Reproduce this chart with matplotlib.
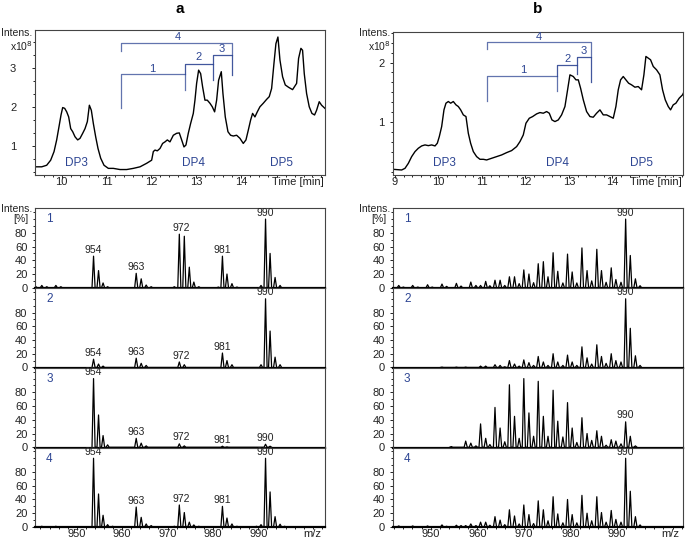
import matplotlib

matplotlib.use("Agg")
import matplotlib.pyplot as plt
from matplotlib.ticker import MultipleLocator, FixedLocator

plt.rcParams["font.family"] = ["Liberation Sans", "DejaVu Sans"]

BLUE = "#2d4593"
FRAME = "#444444"
W, H = 685, 543

# ---- chromatogram a (base peak, x10^8) ----
TIME_A = [9.405, 9.554, 9.665, 9.754, 9.829, 9.888, 9.940, 9.985, 10.022, 10.067, 10.112, 10.156,
          10.201, 10.246, 10.298, 10.357, 10.409, 10.469, 10.521, 10.573, 10.618, 10.662, 10.707,
          10.759, 10.811, 10.871, 10.945, 11.042, 11.153, 11.302, 11.451, 11.600, 11.749, 11.897,
          12.009, 12.046, 12.083, 12.135, 12.195, 12.254, 12.307, 12.359, 12.418, 12.493, 12.567,
          12.626, 12.679, 12.731, 12.775, 12.827, 12.879, 12.939, 12.976, 13.013, 13.058, 13.103,
          13.147, 13.199, 13.251, 13.311, 13.363, 13.415, 13.460, 13.504, 13.564, 13.601, 13.653,
          13.713, 13.772, 13.832, 13.906, 13.981, 14.055, 14.115, 14.167, 14.219, 14.263, 14.315,
          14.368, 14.427, 14.501, 14.576, 14.635, 14.688, 14.740, 14.784, 14.829, 14.874, 14.933,
          14.993, 15.067, 15.156, 15.246, 15.290, 15.342, 15.379, 15.417, 15.469, 15.528, 15.588,
          15.647, 15.692, 15.751, 15.804, 15.878]
INT_A = [0.46, 0.46, 0.50, 0.63, 0.85, 1.15, 1.49, 1.79, 1.98, 1.96, 1.87, 1.74,
         1.44, 1.36, 1.23, 1.15, 1.19, 1.32, 1.44, 1.62, 2.04, 1.91, 1.57,
         1.23, 0.93, 0.68, 0.50, 0.42, 0.42, 0.39, 0.39, 0.42, 0.46, 0.55,
         0.63, 0.85, 0.89, 0.87, 0.93, 1.06, 1.10, 1.15, 1.10, 1.27, 1.32,
         1.33, 1.15, 0.97, 1.02, 1.32, 1.57, 1.83, 2.17, 2.60, 2.94, 2.85,
         2.51, 2.17, 2.17, 2.09, 2.00, 1.87, 2.17, 2.68, 2.90, 2.34, 1.74,
         1.36, 1.27, 1.25, 1.27, 1.19, 1.06, 1.15, 1.40, 1.66, 1.83, 1.74,
         1.87, 2.00, 2.09, 2.19, 2.26, 2.47, 3.11, 3.62, 3.79, 3.20, 2.77,
         2.56, 2.50, 2.44, 2.60, 3.24, 3.50, 3.45, 2.85, 2.34, 2.00, 1.83,
         1.79, 1.91, 2.13, 2.04, 1.96]

# ---- chromatogram b ----
TIME_B = [8.962, 9.153, 9.230, 9.307, 9.383, 9.460, 9.536, 9.613, 9.690, 9.766, 9.843, 9.920,
          9.973, 10.019, 10.073, 10.126, 10.172, 10.226, 10.280, 10.341, 10.402, 10.456, 10.510,
          10.571, 10.632, 10.686, 10.739, 10.801, 10.877, 10.954, 11.031, 11.107, 11.222, 11.337,
          11.452, 11.567, 11.682, 11.797, 11.874, 11.950, 12.011, 12.088, 12.165, 12.257, 12.333,
          12.410, 12.487, 12.548, 12.609, 12.678, 12.755, 12.831, 12.908, 12.969, 13.023, 13.100,
          13.161, 13.215, 13.268, 13.330, 13.406, 13.483, 13.559, 13.636, 13.713, 13.789, 13.866,
          13.943, 14.019, 14.080, 14.134, 14.188, 14.249, 14.310, 14.372, 14.441, 14.517, 14.594,
          14.670, 14.724, 14.770, 14.824, 14.877, 14.939, 15.015, 15.092, 15.153, 15.215, 15.284,
          15.337, 15.398, 15.460, 15.536, 15.613, 15.667]
INT_B = [0.211, 0.200, 0.228, 0.312, 0.424, 0.508, 0.564, 0.603, 0.620, 0.608, 0.620, 0.603,
         0.648, 0.760, 0.927, 1.207, 1.319, 1.347, 1.319, 1.347, 1.291, 1.263, 1.207,
         1.123, 1.095, 0.815, 0.648, 0.508, 0.424, 0.379, 0.379, 0.368, 0.396, 0.424,
         0.452, 0.491, 0.525, 0.592, 0.676, 0.787, 0.983, 1.067, 1.095, 1.140, 1.162,
         1.151, 1.179, 1.151, 1.039, 1.011, 1.039, 1.123, 1.263, 1.543, 1.794, 1.766,
         1.710, 1.710, 1.570, 1.375, 1.179, 1.095, 1.084, 1.151, 1.207, 1.123, 1.123,
         1.095, 1.067, 1.263, 1.543, 1.710, 1.766, 1.710, 1.654, 1.626, 1.587, 1.598,
         1.543, 1.794, 2.102, 2.074, 2.046, 1.934, 1.878, 1.794, 1.543, 1.375, 1.263,
         1.207, 1.291, 1.319, 1.403, 1.459, 1.543]

TICKS_A = [10, 11, 12, 13, 14]
TICKS_B = [9, 10, 11, 12, 13, 14]
MZ_TICKS = [950, 960, 970, 980, 990]

# time windows summed for spectra 1-4
BRACKETS_A = {
    "1": ([11.32, 11.32, 12.76, 12.76], [1.96, 2.84, 2.84, 2.43]),
    "2": ([12.76, 12.76, 13.37, 13.37], [2.84, 3.11, 3.11, 2.68]),
    "3": ([13.37, 13.37, 13.81, 13.81], [3.11, 3.34, 3.34, 2.81]),
    "4": ([11.32, 11.32, 13.81, 13.81], [3.44, 3.64, 3.64, 3.34]),
}
BRACKET_LABELS_A = {"1": (12.03, 2.98), "2": (13.05, 3.27), "3": (13.58, 3.47), "4": (12.59, 3.78)}
BRACKETS_B = {
    "1": ([11.11, 11.11, 12.73, 12.73], [1.35, 1.78, 1.78, 1.53]),
    "2": ([12.73, 12.73, 13.18, 13.18], [1.78, 1.96, 1.96, 1.81]),
    "3": ([13.18, 13.18, 13.51, 13.51], [1.96, 2.10, 2.10, 1.68]),
    "4": ([11.11, 11.11, 13.51, 13.51], [2.22, 2.34, 2.34, 2.10]),
}
BRACKET_LABELS_B = {"1": (11.94, 1.87), "2": (12.96, 2.06), "3": (13.34, 2.20), "4": (12.31, 2.43)}
DP_NAMES = ["DP3", "DP4", "DP5"]
DP_POS_A = [(10.33, 0.55), (12.94, 0.55), (14.91, 0.55)]
DP_POS_B = [(10.13, 0.31), (12.73, 0.31), (14.67, 0.31)]

# ---- mass spectra, left column (a) ----
LEFT_MZ = [941.0, 942.3, 943.4, 945.4, 946.5, 953.7, 954.8, 955.8, 956.8, 957.9,
           963.1, 964.2, 965.3, 966.4, 971.5, 972.6, 973.7, 974.8, 975.8, 976.9,
           981.2, 982.1, 983.1, 984.2, 985.3, 989.6, 990.6, 991.6, 992.6, 993.7, 994.8, 995.8]
LEFT_1 = [1.5, 3.4, 1.5, 3.4, 1.5, 46, 25, 7, 1.5, 0,
          21, 13, 4, 1.5, 1.5, 78, 75, 30, 8.3, 1.5,
          1, 46, 20, 6, 1, 0, 3.4, 100, 50, 15, 3.4, 0]
LEFT_2 = [0, 0, 0, 0, 0, 12, 5, 2, 0, 0,
          13.5, 6, 3, 0, 0, 8, 4, 0, 0, 0,
          0, 21, 10, 4, 0, 0, 4, 100, 53, 15, 4, 0]
LEFT_3 = [0, 0, 0, 0, 0, 100, 47, 17, 3.5, 0,
          13, 6, 2, 0, 0, 5, 2, 0, 0, 0,
          0, 1.5, 0.5, 0, 0, 0, 0, 4.4, 1.5, 0, 0, 0]
LEFT_4 = [0, 1, 0, 1, 0, 100, 48, 17, 3.4, 1,
          29, 14, 4.4, 2, 1, 32, 21, 7, 3, 1,
          0, 30, 13, 4.4, 1, 1, 3.4, 100, 51, 15, 4, 1]
LEFT_LABELS = ["954", "963", "972", "981", "990"]
LEFT_LABEL_MZ = [953.7, 963.1, 973.1, 982.1, 991.6]

# ---- mass spectra, right column (b) ----
RIGHT_MZ = [943.1, 944.1, 945.1, 946.1, 947.2, 948.2, 949.3, 950.3, 951.4, 952.4,
            953.4, 954.4, 955.5, 956.5, 957.5, 958.6, 959.7, 960.7, 961.8, 962.7,
            963.8, 964.9, 965.9, 966.9, 968.0, 969.0, 970.0, 971.1, 972.1, 973.1,
            974.2, 975.2, 976.3, 977.3, 978.4, 979.4, 980.4, 981.4, 982.5, 983.6,
            984.6, 985.7, 986.7, 987.7, 988.8, 989.8, 990.9, 991.9, 992.9, 994.0, 995.0]
RIGHT_1 = [3.4, 1, 0, 3.4, 1, 0, 4.4, 1, 0, 5.4,
           2, 0, 6.4, 2.5, 0, 8.3, 3.4, 3.4, 9.3, 3,
           11, 11, 3.4, 16, 16, 6, 26, 20, 7.4, 35,
           38, 16, 51, 24, 7, 49, 23, 7, 58, 25,
           10, 56, 25, 8, 29, 12, 8, 100, 47, 13, 3]
RIGHT_2 = [0, 0, 0, 0, 0, 0, 0, 0, 0, 0.5,
           0, 0, 0.5, 0, 0.5, 0, 0, 2, 2, 0,
           4, 3, 1, 10, 5, 2, 11, 7, 3, 16,
           8, 3, 20, 8, 3, 18, 8, 3, 30, 14,
           5, 33, 16, 6, 20, 10, 8, 100, 57, 17, 3]
RIGHT_3 = [0, 0, 0, 0, 0, 0, 0, 0, 0, 0,
           0, 1, 0, 0, 9, 6, 2, 34, 13, 4,
           58, 28, 8, 91, 45, 13, 100, 50, 16, 96,
           45, 16, 83, 38, 15, 65, 28, 7, 43, 20,
           10, 24, 16, 3, 11, 9, 5, 37, 16, 2, 0]
RIGHT_4 = [1.5, 0, 0, 1.5, 0, 0, 1.5, 0, 0, 3,
           1, 0, 2.5, 2, 2, 4.4, 2, 7, 7, 2.5,
           15, 10, 3.4, 25, 16, 4.4, 32, 18, 5, 38,
           25, 9, 44, 19, 6, 40, 18, 6, 46, 20,
           9, 44, 21, 7, 24, 11, 7, 100, 52, 15, 3]
RIGHT_LABELS = ["990"]
RIGHT_LABEL_MZ = [991.9]


def px_rect(x0, y0, x1, y1):
    return [x0 / W, 1 - y1 / H, (x1 - x0) / W, (y1 - y0) / H]


def fig_text(fig, x, y, s, **kw):
    fig.text(x / W, 1 - y / H, s, **kw)


def stick_profile(mz, heights, hw=0.34):
    xs, ys = [], []
    for m, h in zip(mz, heights):
        if h <= 0:
            continue
        xs += [m - hw, m, m + hw]
        ys += [0, h, 0]
    return xs, ys


def style_frame(ax):
    for s in ax.spines.values():
        s.set_color(FRAME)
        s.set_linewidth(0.8)
    ax.tick_params(which="both", direction="out", colors="#222222", labelsize=8, width=0.7)
    ax.tick_params(which="major", length=2.5)
    ax.tick_params(which="minor", length=1.5)
    ax.tick_params(axis="x", pad=-1.0)


def chromatogram(fig, rect, t, y, xlim, ylim, xticks, yticks, yminor, ypad, brackets, blabels, dp_pos):
    ax = fig.add_axes(rect)
    ax.plot(t, y, color="black", lw=1.0)
    for key, (bx, by) in brackets.items():
        ax.plot(bx, by, color=BLUE, lw=0.9, alpha=0.9 if key in "23" else 0.75)
        lx, ly = blabels[key]
        ax.text(lx, ly, key, color=BLUE, fontsize=8, ha="center", va="center")
    for name, (x, yy) in zip(DP_NAMES, dp_pos):
        ax.text(x, yy, name, color=BLUE, fontsize=8.5, ha="center", va="center")
    ax.set_xlim(*xlim)
    ax.set_ylim(*ylim)
    ax.xaxis.set_major_locator(FixedLocator(xticks))
    ax.xaxis.set_minor_locator(MultipleLocator(0.2))
    ax.yaxis.set_major_locator(FixedLocator(yticks))
    ax.yaxis.set_minor_locator(MultipleLocator(yminor))
    style_frame(ax)
    ax.tick_params(axis="y", pad=ypad)
    ax.annotate("Time [min]", xy=(1, 0), xycoords="axes fraction", xytext=(-1, -1.5),
                textcoords="offset points", ha="right", va="top", fontsize=8, color="#222222")
    return ax


def spectrum(fig, rect, mz, heights, number, labels, label_mz, xlim, last):
    ax = fig.add_axes(rect)
    xs, ys = stick_profile(mz, heights)
    ax.plot(xs, ys, color="black", lw=0.9)
    ax.set_xlim(*xlim)
    ax.set_ylim(-0.5, 115.7)
    for lab, lm in zip(labels, label_mz):
        top = max([h for m, h in zip(mz, heights) if abs(m - lm) < 0.8] + [0])
        ax.annotate(lab, (lm, top), xytext=(0, 1.0), textcoords="offset points",
                    ha="center", va="bottom", fontsize=7.5, color="#222222",
                    annotation_clip=False)
    ax.text(0.05, 0.86, number, transform=ax.transAxes, color=BLUE, fontsize=8.5,
            ha="center", va="center")
    ax.yaxis.set_major_locator(FixedLocator([0, 20, 40, 60, 80]))
    ax.yaxis.set_minor_locator(FixedLocator([10, 30, 50, 70, 90, 100, 110]))
    ax.xaxis.set_major_locator(FixedLocator(MZ_TICKS))
    ax.xaxis.set_minor_locator(MultipleLocator(2))
    style_frame(ax)
    ax.tick_params(axis="y", pad=3.0)
    ax.spines["bottom"].set_color("black")
    ax.spines["bottom"].set_linewidth(1.6)
    if last:
        ax.annotate("m/z", xy=(1, 0), xycoords="axes fraction", xytext=(-3, -1.5),
                    textcoords="offset points", ha="right", va="top", fontsize=8,
                    color="#222222")
    else:
        ax.tick_params(axis="x", which="both", labelbottom=False, length=0)
        ax.spines["bottom"].set_zorder(5)
    return ax


fig = plt.figure(figsize=(6.85, 5.43), dpi=100)

chromatogram(fig, px_rect(35, 30, 325, 175), TIME_A, INT_A, (9.404, 15.88), (0.25, 3.97),
             TICKS_A, [1, 2, 3], 1 / 3, 11.0, BRACKETS_A, BRACKET_LABELS_A, DP_POS_A)
chromatogram(fig, px_rect(392.7, 31.5, 683.3, 175), TIME_B, INT_B, (8.947, 15.63), (0.116, 2.52),
             TICKS_B, [1, 2], 1 / 6, 3.5, BRACKETS_B, BRACKET_LABELS_B, DP_POS_B)

tops = [208.3, 288.0, 367.8, 447.5]
ph = 79.8
left_sets = [LEFT_1, LEFT_2, LEFT_3, LEFT_4]
right_sets = [RIGHT_1, RIGHT_2, RIGHT_3, RIGHT_4]
for i, top in enumerate(tops):
    spectrum(fig, px_rect(35, top, 325, top + ph), LEFT_MZ, left_sets[i], str(i + 1),
             LEFT_LABELS, LEFT_LABEL_MZ, (940.8, 1004.7), i == 3)
    spectrum(fig, px_rect(392.7, top, 683.3, top + ph), RIGHT_MZ, right_sets[i], str(i + 1),
             RIGHT_LABELS, RIGHT_LABEL_MZ, (941.8, 1004.3), i == 3)

# panel letters and axis captions
fig_text(fig, 180, 9, "a", fontsize=11, fontweight="bold", ha="center", va="center")
fig_text(fig, 538, 9, "b", fontsize=11, fontweight="bold", ha="center", va="center")
for xr in (32, 390):
    fig_text(fig, xr, 32.5, "Intens.", fontsize=7.5, ha="right", va="center", color="#222222")
    fig_text(fig, xr + 1, 46, r"x10$^{8}$", fontsize=7.5, ha="right", va="center", color="#222222")
    fig_text(fig, xr, 209, "Intens.", fontsize=7.5, ha="right", va="center", color="#222222")
    fig_text(fig, xr - 4, 219.5, "[%]", fontsize=7.5, ha="right", va="center", color="#222222")

fig.savefig("out.png", dpi=100)
